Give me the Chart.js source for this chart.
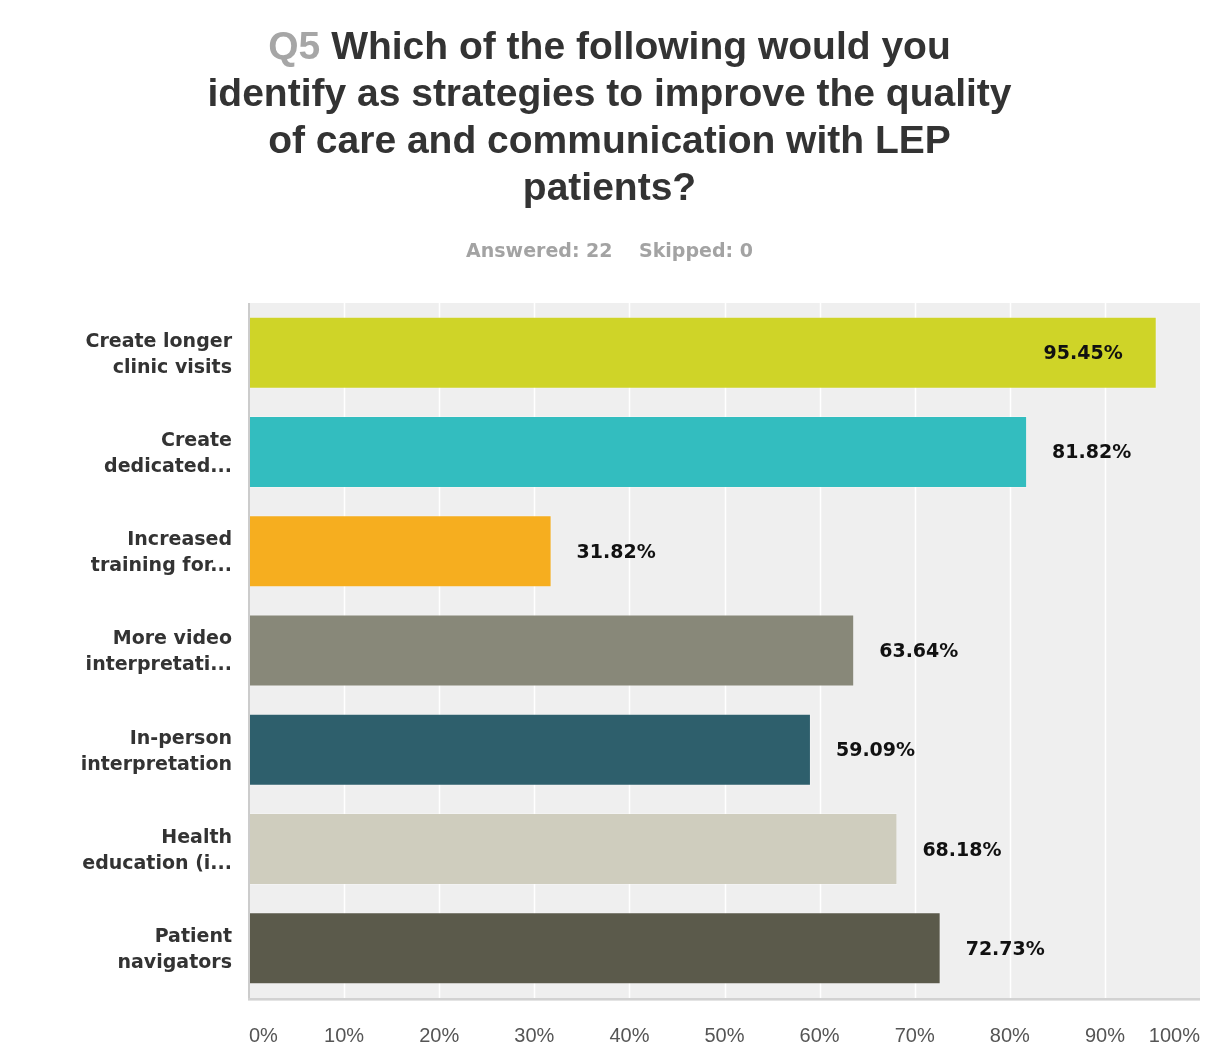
<!DOCTYPE html>
<html>
<head>
<meta charset="utf-8">
<script src="https://cdn.jsdelivr.net/npm/chart.js@4/dist/chart.umd.min.js"></script>
<style>
  html, body { margin: 0; padding: 0; background: #fff; }
  #wrap { position: relative; width: 1219px; height: 1047px; }
  #title {
    position: absolute; left: 0; top: 22px; width: 1219px;
    text-align: center; font-family: "Liberation Sans", Arial, sans-serif;
    font-weight: bold; font-size: 39px; line-height: 47px; color: #333;
  }
  #title .qnum { color: #a6a6a6; }
  #sub {
    position: absolute; left: 0; top: 238px; width: 1219px;
    text-align: center; font-family: "DejaVu Sans", Verdana, sans-serif;
    font-weight: bold; font-size: 19px; line-height: 24px; color: #a3a3a3;
    white-space: pre;
  }
  canvas { position: absolute; left: 0; top: 0; }
</style>
</head>
<body>
<div id="wrap">
  <canvas id="chart" width="1219" height="1047"></canvas>
  <div id="title"><span class="qnum">Q5</span> Which of the following would you<br>identify as strategies to improve the quality<br>of care and communication with LEP<br>patients?</div>
  <div id="sub">Answered: 22    Skipped: 0</div>
</div>
<script>
// Answer choices (wrapped as shown on the axis)
const categories = [
  ["Create longer", "clinic visits"],
  ["Create", "dedicated..."],
  ["Increased", "training for..."],
  ["More video", "interpretati..."],
  ["In-person", "interpretation"],
  ["Health", "education (i..."],
  ["Patient", "navigators"]
];
// Share of respondents choosing each option (%)
const responsePct = [95.45, 81.82, 31.82, 63.64, 59.09, 68.18, 72.73];
const barColors = ["#cfd428", "#33bdbf", "#f6ae1f", "#888879", "#2e5f6c", "#cfcdbe", "#5b5a4b"];
const xTicks = [0, 10, 20, 30, 40, 50, 60, 70, 80, 90, 100];

const PLOT_LEFT = 249, PLOT_RIGHT = 1200, PLOT_TOP = 303, PLOT_BOTTOM = 998;
const W = 1219, H = 1047;

const plotFrame = {
  id: 'plotFrame',
  beforeDatasetsDraw(chart) {
    const { ctx, chartArea: a } = chart;
    ctx.save();
    ctx.fillStyle = '#efefef';
    ctx.fillRect(a.left, a.top, a.right - a.left, a.bottom - a.top);
    // vertical white grid lines
    const xs = chart.scales.x;
    ctx.strokeStyle = '#ffffff';
    ctx.lineWidth = 1.5;
    xTicks.forEach(v => {
      if (v === 0 || v === 100) return;
      const px = Math.round(xs.getPixelForValue(v)) + 0.5;
      ctx.beginPath(); ctx.moveTo(px, a.top); ctx.lineTo(px, a.bottom); ctx.stroke();
    });
    ctx.restore();
  },
  afterDatasetsDraw(chart) {
    const { ctx, chartArea: a } = chart;
    ctx.save();
    // axis frame: left and bottom edges
    ctx.fillStyle = '#cccccc';
    ctx.fillRect(a.left - 1, a.top, 2, a.bottom - a.top + 2);
    ctx.fillStyle = '#d2d2d2';
    ctx.fillRect(a.left - 1, a.bottom, a.right - a.left + 1, 2);
    ctx.fillStyle = '#e4e4e4';
    ctx.fillRect(a.left - 1, a.bottom + 2, a.right - a.left + 1, 1);

    // value labels
    const meta = chart.getDatasetMeta(0);
    ctx.font = 'bold 19px "DejaVu Sans", Verdana, sans-serif';
    ctx.fillStyle = '#111';
    ctx.textBaseline = 'middle';
    meta.data.forEach((bar, i) => {
      const txt = responsePct[i].toFixed(2) + '%';
      const w = ctx.measureText(txt).width;
      if (bar.x + 25 + w > a.right) {
        ctx.textAlign = 'right';
        ctx.fillText(txt, bar.x - 34, bar.y + 1.5);
      } else {
        ctx.textAlign = 'left';
        ctx.fillText(txt, bar.x + 25, bar.y + 1.5);
      }
    });
    ctx.restore();
  }
};

new Chart(document.getElementById('chart'), {
  type: 'bar',
  data: {
    labels: categories,
    datasets: [{
      data: responsePct,
      backgroundColor: barColors,
      borderColor: 'rgba(255,255,255,0.25)',
      borderWidth: 1,
      borderSkipped: false,
      categoryPercentage: 1,
      barPercentage: 0.725
    }]
  },
  options: {
    indexAxis: 'y',
    responsive: false,
    animation: false,
    layout: { padding: { top: PLOT_TOP, right: W - PLOT_RIGHT, bottom: 0, left: 0 } },
    plugins: { legend: { display: false }, tooltip: { enabled: false }, title: { display: false } },
    scales: {
      x: {
        min: 0, max: 100,
        afterBuildTicks(scale) { scale.ticks = xTicks.map(v => ({ value: v })); },
        afterFit(scale) {
          scale.height = H - PLOT_BOTTOM;
          scale.paddingLeft = 0;
          scale.paddingRight = 0;
        },
        grid: { display: false, drawTicks: false },
        border: { display: false },
        ticks: {
          align: 'inner',
          padding: 26,
          color: '#555',
          font: { family: '"Liberation Sans", Arial, sans-serif', size: 20 },
          callback: v => v + '%'
        }
      },
      y: {
        afterFit(scale) {
          scale.width = PLOT_LEFT;
          scale.paddingTop = 0;
          scale.paddingBottom = 0;
        },
        grid: { display: false, drawTicks: false },
        border: { display: false },
        ticks: {
          padding: 17,
          labelOffset: 2,
          color: '#333',
          font: { family: '"DejaVu Sans", Verdana, sans-serif', size: 19, weight: 'bold', lineHeight: '26px' }
        }
      }
    }
  },
  plugins: [plotFrame]
});
</script>
</body>
</html>
